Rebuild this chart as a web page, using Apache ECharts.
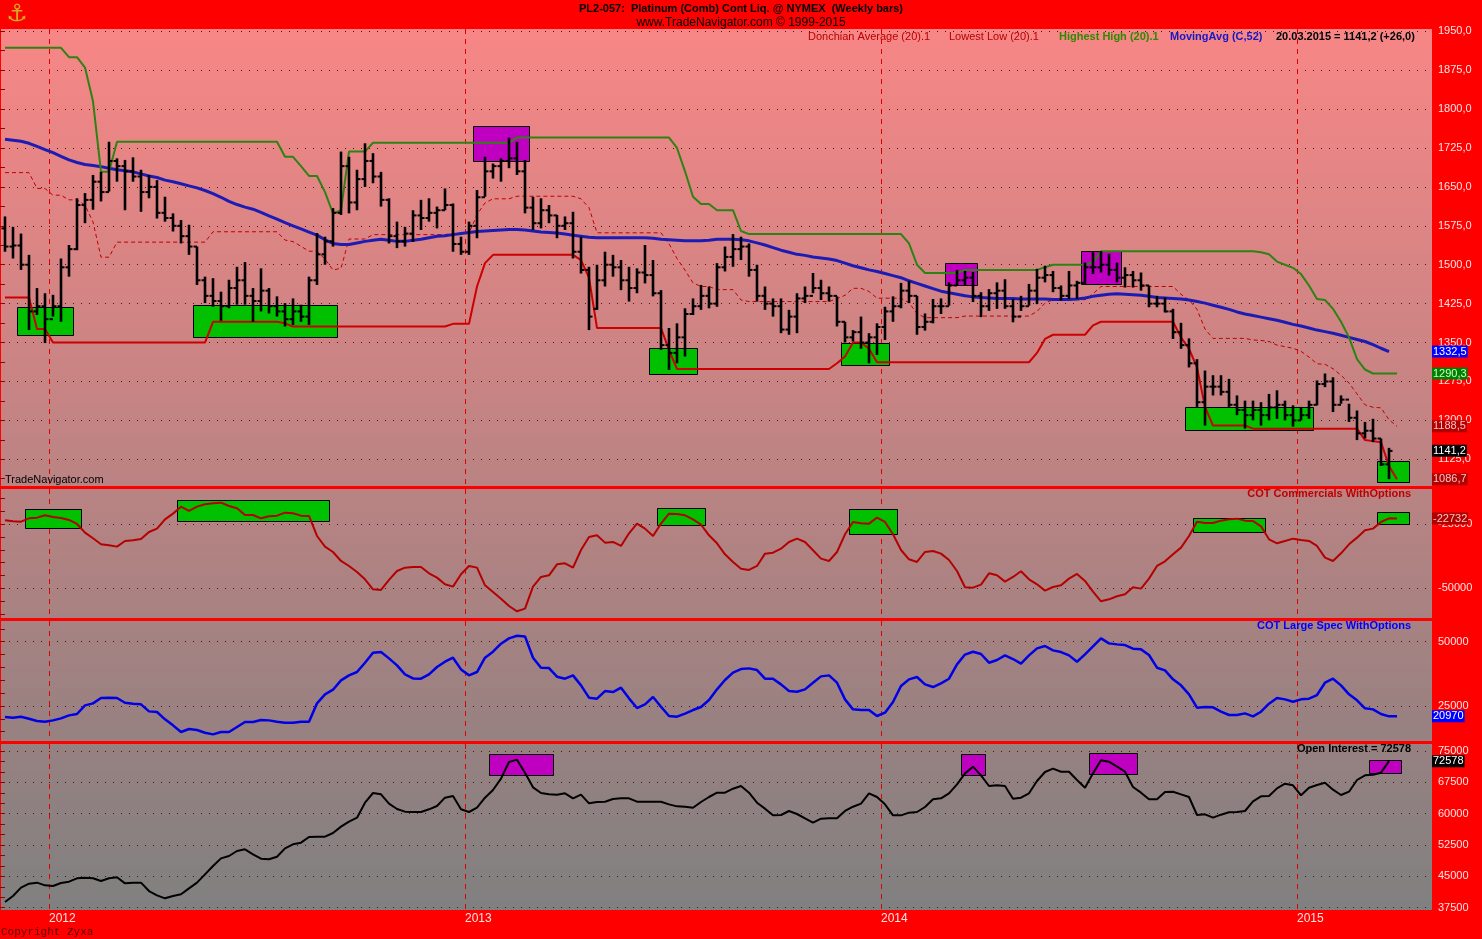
<!DOCTYPE html>
<html><head><meta charset="utf-8">
<script src="https://cdn.jsdelivr.net/npm/echarts@6.0.0/dist/echarts.min.js"></script>
<style>html,body{margin:0;padding:0;background:#ff0000;overflow:hidden}#c{width:1482px;height:939px}</style>
</head><body><div id="c"></div><script>
// ---------------- DATA (weekly bars, first bar = week of 25.11.2011) ----------------
const lastDate = '20.03.2015';
const yearBreaks = [5.5, 57.5, 109.5, 161.5];
const yearLabels = ['2012', '2013', '2014', '2015'];

const priceLabels = [1125,1200,1275,1350,1425,1500,1575,1650,1725,1800,1875,1950];
const priceTicks = [1087.5,1125,1162.5,1200,1237.5,1275,1312.5,1350,1387.5,1425,1462.5,1500,1537.5,1575,1612.5,1650,1687.5,1725,1762.5,1800,1837.5,1875,1912.5,1950];
const commLabels = [-50000,-25000];
const commTicks = [-60000,-55000,-50000,-45000,-40000,-35000,-30000,-25000,-20000,-15000];
const specLabels = [25000,50000];
const specTicks = [15000,20000,25000,30000,35000,40000,45000,50000,55000];
const oiLabels = [37500,45000,52500,60000,67500,75000];
const oiTicks = [37500,40000,42500,45000,47500,50000,52500,55000,57500,60000,62500,65000,67500,70000,72500,75000];

const open = [
1570,1535,1537,1500,1410,1420,1395,1420,1495,1530,
1615,1625,1660,1640,1700,1690,1680,1670,1640,1650,
1600,1590,1575,1555,1535,1470,1440,1430,1420,1455,
1470,1440,1430,1450,1420,1410,1395,1410,1400,1470,
1520,1545,1600,1690,1620,1665,1700,1670,1625,1555,
1545,1560,1595,1590,1600,1605,1615,1540,1525,1575,
1630,1680,1690,1700,1705,1680,1610,1580,1605,1595,
1575,1580,1525,1490,1415,1470,1500,1495,1470,1455,
1485,1480,1445,1345,1330,1360,1405,1420,1440,1425,
1495,1515,1530,1535,1490,1440,1425,1420,1375,1400,
1435,1440,1455,1445,1440,1390,1360,1370,1350,1360,
1380,1410,1420,1450,1440,1380,1390,1420,1420,1460,
1470,1475,1440,1420,1445,1450,1420,1400,1420,1450,
1475,1480,1455,1440,1460,1465,1495,1495,1500,1490,
1475,1480,1470,1460,1425,1425,1410,1370,1345,1310,
1235,1265,1265,1255,1230,1220,1210,1220,1210,1225,
1230,1210,1200,1210,1230,1270,1275,1230,1240,1205,
1175,1180,1165,1115.2];
const high = [
1593,1573,1560,1519,1455,1445,1442,1512,1538,1628,
1638,1673,1679,1737,1705,1702,1707,1683,1673,1663,
1631,1599,1586,1577,1535,1477,1474,1448,1471,1496,
1505,1455,1493,1455,1439,1426,1435,1423,1477,1561,
1554,1609,1718,1708,1683,1734,1715,1679,1628,1583,
1573,1605,1625,1628,1612,1647,1618,1554,1583,1644,
1708,1695,1705,1745,1737,1702,1631,1628,1615,1596,
1593,1602,1554,1496,1500,1525,1519,1509,1496,1493,
1538,1509,1451,1378,1387,1416,1435,1461,1458,1503,
1535,1559,1554,1541,1500,1458,1435,1435,1413,1445,
1458,1484,1471,1458,1439,1390,1374,1400,1368,1387,
1419,1439,1465,1469,1440,1406,1434,1435,1466,1490,
1488,1486,1447,1453,1466,1472,1434,1440,1463,1492,
1498,1488,1460,1488,1469,1504,1524,1526,1521,1504,
1495,1488,1485,1460,1440,1437,1415,1388,1358,1318,
1296,1287,1287,1280,1248,1238,1238,1235,1251,1258,
1238,1229,1226,1238,1277,1290.3,1283,1248,1232,1219,
1197,1203,1165,1147];
const low = [
1525,1512,1490,1374,1403,1349,1400,1390,1477,1528,
1580,1606,1622,1641,1660,1605,1660,1602,1628,1589,
1583,1564,1541,1519,1461,1426,1419,1392,1416,1423,
1423,1390,1410,1406,1400,1381,1384,1390,1384,1461,
1500,1535,1596,1599,1605,1650,1657,1612,1541,1532,
1535,1544,1567,1583,1570,1605,1525,1519,1519,1551,
1631,1666,1660,1686,1673,1599,1567,1570,1580,1551,
1567,1512,1483,1374,1413,1458,1477,1451,1429,1445,
1464,1439,1336,1297,1310,1323,1403,1413,1416,1419,
1487,1496,1509,1477,1429,1413,1400,1368,1365,1368,
1426,1445,1432,1429,1381,1350,1352,1338,1310,1326,
1355,1390,1416,1426,1365,1373,1387,1405,1421,1460,
1460,1428,1399,1411,1415,1415,1389,1411,1421,1424,
1466,1447,1431,1434,1434,1463,1482,1485,1479,1466,
1456,1456,1450,1418,1418,1408,1357,1338,1302,1226,
1190,1248,1248,1226,1210,1184,1200,1190,1200,1203,
1200,1188,1200,1203,1229,1264,1216,1232,1197,1162,
1165,1158,1112,1086.7];
const close = [
1535,1537,1500,1410,1420,1395,1420,1495,1530,1615,
1625,1660,1640,1700,1690,1680,1670,1640,1650,1600,
1590,1575,1555,1535,1470,1440,1430,1420,1455,1470,
1440,1430,1450,1420,1410,1395,1410,1400,1470,1520,
1545,1600,1690,1620,1665,1700,1670,1625,1555,1545,
1560,1595,1590,1600,1605,1615,1540,1525,1575,1630,
1680,1690,1700,1705,1680,1610,1580,1605,1595,1575,
1580,1525,1490,1400,1470,1500,1495,1470,1455,1485,
1480,1445,1345,1330,1360,1405,1420,1440,1425,1495,
1515,1530,1535,1490,1440,1425,1420,1375,1400,1435,
1440,1455,1445,1440,1390,1360,1370,1350,1360,1380,
1410,1420,1450,1440,1380,1390,1420,1420,1460,1470,
1475,1440,1420,1445,1450,1420,1400,1420,1450,1475,
1480,1455,1440,1460,1465,1495,1495,1500,1490,1475,
1480,1470,1460,1425,1425,1410,1370,1345,1310,1235,
1265,1265,1255,1230,1220,1210,1220,1210,1225,1230,
1210,1200,1210,1230,1270,1275,1230,1240,1205,1175,
1180,1165,1115.2,1141.2];
const ma52 = [
1742,1740,1738,1734,1728,1722,1716,1709,1702,1697,
1693,1691,1689,1686,1683,1681,1679,1675,1671,1668,
1663,1660,1656,1652,1648,1643,1637,1630,1622,1616,
1611,1607,1601,1594,1588,1581,1575,1569,1563,1557,
1548,1541,1539,1539,1542,1545,1547,1549,1547,1545,
1545,1547,1549,1552,1555,1556,1558,1560,1562,1564,
1565,1566,1567,1568,1568,1567,1565,1563,1562,1561,
1559,1557,1555,1553,1552,1552,1552,1552,1552,1552,
1552,1551,1549,1548,1547,1546,1546,1546,1547,1549,
1549,1549,1548,1546,1542,1538,1533,1528,1524,1520,
1518,1515,1513,1511,1508,1503,1498,1494,1490,1487,
1483,1479,1475,1469,1464,1459,1454,1449,1446,1443,
1440,1438,1437,1436,1435,1435,1435,1434,1434,1434,
1434,1433,1433,1433,1434,1436,1439,1441,1443,1444,
1443,1442,1441,1439,1437,1436,1435,1434,1432,1429,
1426,1422,1418,1414,1409,1405,1402,1399,1396,1393,
1389,1385,1382,1378,1374,1371,1368,1364,1360,1356,
1352,1346,1339,1332.5];
// Highest High (20).1, Lowest Low (20).1, Donchian Average (20).1 — one bar ahead
const hh = [
1918,1918,1918,1918,1918,1918,1918,1918,1900,1900,
1880,1815,1679,1679,1737,1737,1737,1737,1737,1737,
1737,1737,1737,1737,1737,1737,1737,1737,1737,1737,
1737,1737,1737,1737,1737,1708,1708,1690,1671,1671,
1640,1599,1605,1718,1718,1718,1735,1735,1735,1735,
1735,1735,1735,1735,1735,1735,1735,1735,1735,1735,
1735,1735,1735,1735,1745,1745,1745,1745,1745,1745,
1745,1745,1745,1745,1745,1745,1745,1745,1745,1745,
1745,1745,1745,1745,1725,1680,1631,1617,1617,1605,
1605,1605,1565,1559,1559,1559,1559,1559,1559,1559,
1559,1559,1559,1559,1559,1559,1559,1559,1559,1559,
1559,1559,1559,1541,1500,1484,1484,1484,1484,1484,
1490,1490,1490,1490,1490,1490,1490,1490,1490,1490,
1495,1500,1500,1500,1500,1500,1505,1526,1526,1526,
1526,1526,1526,1526,1526,1526,1526,1526,1526,1526,
1526,1526,1526,1526,1526,1526,1526,1524,1520,1506,
1500,1494,1482,1460,1434,1432,1415,1390,1360,1318,
1298,1290.3,1290.3,1290.3,1290.3];
const ll = [
1437,1437,1437,1437,1376,1376,1350,1350,1350,1350,
1350,1350,1350,1350,1350,1350,1350,1350,1350,1350,
1350,1350,1350,1350,1350,1350,1390,1390,1390,1390,
1390,1390,1390,1390,1390,1387,1381,1381,1381,1381,
1381,1381,1381,1381,1381,1381,1381,1381,1381,1381,
1381,1381,1381,1381,1381,1381,1386,1386,1386,1458,
1503,1519,1519,1519,1519,1519,1519,1519,1519,1519,
1519,1519,1509,1475,1378,1378,1378,1378,1378,1378,
1378,1378,1378,1336,1299,1299,1299,1299,1299,1299,
1299,1299,1299,1299,1299,1299,1299,1299,1299,1299,
1299,1299,1299,1299,1310,1323,1350,1350,1338,1312,
1312,1312,1312,1312,1312,1312,1312,1312,1312,1312,
1312,1312,1312,1312,1312,1312,1312,1312,1312,1330,
1357,1365,1365,1365,1365,1365,1383,1390,1390,1390,
1390,1390,1390,1390,1390,1390,1390,1360,1338,1302,
1226,1190,1190,1190,1190,1190,1184,1184,1184,1184,
1184,1184,1184,1184,1184,1184,1184,1184,1184,1184,
1162,1160,1158,1112,1086.7];
const dca = [
1677.5,1677.5,1677.5,1677.5,1647,1647,1634,1634,1625,1625,
1615,1582.5,1514.5,1514.5,1543.5,1543.5,1543.5,1543.5,1543.5,1543.5,
1543.5,1543.5,1543.5,1543.5,1543.5,1543.5,1563.5,1563.5,1563.5,1563.5,
1563.5,1563.5,1563.5,1563.5,1563.5,1547.5,1544.5,1535.5,1526,1526,
1510.5,1490,1493,1549.5,1549.5,1549.5,1558,1558,1558,1558,
1558,1558,1558,1558,1558,1558,1560.5,1560.5,1560.5,1596.5,
1619,1627,1627,1627,1632,1632,1632,1632,1632,1632,
1632,1632,1627,1610,1561.5,1561.5,1561.5,1561.5,1561.5,1561.5,
1561.5,1561.5,1561.5,1540.5,1512,1489.5,1465,1458,1458,1452,
1452,1452,1432,1429,1429,1429,1429,1429,1429,1429,
1429,1429,1429,1429,1434.5,1441,1454.5,1454.5,1448.5,1435.5,
1435.5,1435.5,1435.5,1426.5,1406,1398,1398,1398,1398,1398,
1401,1401,1401,1401,1401,1401,1401,1401,1401,1410,
1426,1432.5,1432.5,1432.5,1432.5,1432.5,1444,1458,1458,1458,
1458,1458,1458,1458,1458,1458,1458,1443,1432,1414,
1376,1358,1358,1358,1358,1358,1355,1354,1352,1345,
1342,1339,1333,1322,1309,1308,1299.5,1287,1272,1251,
1230,1225.2,1224.2,1201.2,1188.5];
const cotComm = [
-23440,-23830,-23960,-22660,-22400,-21490,-22140,-22530,-23310,-24870,
-28260,-30470,-32810,-33200,-33720,-31510,-31250,-30730,-28000,-26690,
-23050,-20830,-18100,-19790,-18100,-17190,-16800,-16540,-17840,-18750,
-21350,-21350,-22660,-21880,-21620,-20440,-20700,-21620,-21750,-29560,
-33720,-35810,-39320,-41280,-43620,-46480,-50390,-50650,-46740,-43230,
-41930,-41670,-41670,-44140,-45830,-48440,-49350,-44530,-41280,-41930,
-48830,-51430,-54040,-56900,-58980,-57940,-49350,-45570,-44920,-40620,
-40230,-41930,-35030,-29950,-29300,-32160,-31900,-33460,-28520,-24740,
-26690,-29560,-24740,-20830,-20960,-21490,-23050,-25130,-29300,-32420,
-36720,-39710,-42320,-42840,-41280,-36460,-36070,-34510,-31900,-30600,
-31900,-35160,-38410,-39320,-35810,-28910,-24090,-24610,-24740,-22400,
-24090,-28910,-35030,-38670,-39710,-35810,-35420,-36460,-38930,-43230,
-49600,-49740,-48570,-44140,-44920,-47390,-45570,-43360,-46480,-48440,
-50910,-49480,-48830,-46220,-44400,-47130,-51300,-55080,-54300,-53120,
-52340,-49610,-50130,-46220,-41280,-39450,-36720,-34110,-29560,-23960,
-24480,-24480,-23570,-23050,-22790,-23570,-23700,-25780,-30860,-32420,
-31510,-30600,-31120,-31510,-33460,-38020,-39320,-36330,-32810,-30210,
-27340,-26690,-24090,-22660,-22732];
const cotSpec = [
20710,20450,20840,20060,19160,18900,19410,20190,21360,21880,
25250,26020,28100,28230,28100,26280,25890,25640,22910,22650,
19800,17470,14880,16050,15660,14620,13970,14880,14880,16820,
18770,18770,19540,19410,18900,18510,18510,18900,18900,26020,
29520,31340,34970,36910,38210,41840,45720,45980,43520,40800,
37300,35740,35610,37300,40150,42220,43780,39240,36910,38210,
43780,46110,49220,51300,52330,52070,43780,39890,39760,36390,
35610,36910,33020,28230,27840,30820,30430,32120,27970,24210,
25640,28490,24730,21100,20840,22010,23430,24600,27320,31470,
35100,37950,39370,39630,38980,35610,35610,33410,30820,30560,
31470,34060,36520,36910,34060,27580,23690,23430,23430,21100,
22400,26540,32760,35360,36260,33410,32370,33800,35610,41190,
45000,46110,45210,41840,42870,44690,43260,41450,44690,47410,
48320,46630,45980,44690,42220,45080,48190,51300,49350,48960,
48700,47280,47020,44820,39890,38850,35360,33020,29520,24340,
24600,24470,22780,21490,21490,22140,20970,22780,25890,28100,
27580,26670,27580,27840,29260,34060,35610,33020,29520,27190,
24080,23690,21880,20970,20970];
const oi = [
38850,40290,42280,43240,43480,42840,42680,43400,43720,44520,
44680,44520,43880,44520,44760,43320,43480,43480,41480,40450,
39730,40290,40690,42120,43480,45470,47470,49300,49860,51060,
51460,50260,49230,49070,49700,51700,52660,53060,54410,54490,
54490,55370,56890,58080,59040,62630,64950,64630,62390,61120,
60480,60400,60400,61040,61830,63830,64230,61040,60400,61430,
63830,65660,68380,72370,72930,69810,66300,64950,64630,64550,
64870,63670,64550,62470,62790,62870,63510,63670,63670,62870,
62870,62870,62870,62230,61750,61670,61430,62790,63990,65030,
65030,65980,66620,65030,62630,61200,59600,59680,60640,59920,
58880,57840,58800,58880,58880,60640,61670,62390,64870,63990,
62230,59600,59600,60240,60400,61590,63430,63670,64870,67020,
69650,71250,69180,66620,66780,66620,63590,63830,64870,67820,
69970,70770,70050,70050,68060,66220,69650,72770,72450,71250,
70050,66380,65030,63430,63430,65190,65260,64630,63990,59680,
59840,59040,59760,60320,60400,60640,62950,64150,64230,66060,
67180,66780,64390,66220,66860,67420,65740,64470,65260,68060,
69180,69330,69810,72578];
// highlight boxes: [fromBar, toBar, top value, bottom value]
const mainGreenBoxes = [[1.5,8.5,1418,1364],[23.5,41.5,1422,1360],[80.5,86.5,1339,1289],[104.5,110.5,1350,1308],[147.5,163.5,1226,1181],[171.5,175.5,1122,1081]];
const mainMagentaBoxes = [[58.5,65.5,1767,1700],[117.5,121.5,1503,1460],[134.5,139.5,1527,1464]];
const commGreenBoxes = [[2.5,9.5,-19140,-26560],[21.5,40.5,-15630,-23830],[81.5,87.5,-18750,-25390],[105.5,111.5,-19140,-28910],[148.5,157.5,-22400,-27860],[171.5,175.5,-20180,-24740]];
const oiMagentaBoxes = [[60.5,68.5,74200,69180],[119.5,122.5,74200,69180],[135.5,141.5,74440,69410],[170.5,174.5,72770,69650]];

// ---------------- LAYOUT ----------------
const FONT = '"Liberation Sans", Arial, sans-serif';
const panels = [
  {top:29, height:457, min:1073.5, max:1954.3, labels:priceLabels, ticks:priceTicks, fmt:v=>v.toFixed(1).replace('.', ',')},
  {top:489, height:129, min:-61600, max:-11210, labels:commLabels, ticks:commTicks, fmt:v=>String(v)},
  {top:621, height:120, min:11390, max:58050, labels:specLabels, ticks:specTicks, fmt:v=>String(v)},
  {top:744, height:166, min:36935, max:76680, labels:oiLabels, ticks:oiTicks, fmt:v=>String(v)}
];
function bgAt(y){const t=(y-29)/(910-29);const r=Math.round(248+(128-248)*t),g=Math.round(134+(128-134)*t);return 'rgb('+r+','+g+','+g+')';}

const chart = echarts.init(document.getElementById('c'), null, {renderer:'canvas'});
const grids=[], xAxes=[], yAxes=[];
panels.forEach((p,k)=>{
  grids.push({left:1, top:p.top, width:1431, height:p.height, show:true, borderWidth:0,
    backgroundColor:new echarts.graphic.LinearGradient(0,0,0,1,[{offset:0,color:bgAt(p.top)},{offset:1,color:bgAt(p.top+p.height)}])});
  xAxes.push({gridIndex:k, type:'value', min:-0.5, max:178.375,
    axisLine:{show:false}, axisTick:{show:false, customValues:yearBreaks},
    axisLabel:{show:k===3, customValues:yearBreaks, formatter:v=>yearLabels[yearBreaks.indexOf(v)], align:'left', color:'#ffe4e4', fontSize:12, fontFamily:FONT, margin:3},
    splitLine:{show:true, lineStyle:{color:'#e00000', type:[5,5], width:1}}});
  yAxes.push({gridIndex:k, type:'value', position:'right', min:p.min, max:p.max,
    axisLine:{show:false},
    axisTick:{show:true, inside:true, length:9, lineStyle:{color:'#9a0000', width:1}, customValues:p.ticks},
    axisLabel:{show:true, customValues:p.labels, formatter:p.fmt, color:'#ffe4e4', fontSize:11, fontFamily:FONT, margin:6},
    splitLine:{show:false}});
  yAxes.push({gridIndex:k, type:'value', position:'right', min:p.min, max:p.max,
    axisLine:{show:false}, axisTick:{show:false, customValues:p.labels}, axisLabel:{show:false},
    splitLine:{show:true, lineStyle:{color:'#4a1414', type:[1,7], width:1}}});
});

function boxRenderer(fill){
  return function(params, api){
    const a = api.coord([api.value(0), api.value(2)]);
    const b = api.coord([api.value(1), api.value(3)]);
    return {type:'rect', shape:{x:Math.round(a[0])+0.5, y:Math.round(a[1])+0.5, width:Math.round(b[0]-a[0]), height:Math.round(b[1]-a[1])},
      style:{fill:fill, stroke:'#000', lineWidth:1}};
  };
}
function barRenderer(params, api){
  const i = api.value(0);
  const o = api.coord([i, api.value(1)]), h = api.coord([i, api.value(2)]), l = api.coord([i, api.value(3)]), c = api.coord([i, api.value(4)]);
  const x = Math.round(h[0]);
  return {type:'group', children:[
    {type:'line', shape:{x1:x, y1:h[1], x2:x, y2:l[1]}, style:{stroke:'#000', lineWidth:2.6}},
    {type:'line', shape:{x1:x-3.5, y1:o[1], x2:x, y2:o[1]}, style:{stroke:'#000', lineWidth:2}},
    {type:'line', shape:{x1:x, y1:c[1], x2:x+3.5, y2:c[1]}, style:{stroke:'#000', lineWidth:2}}
  ]};
}
const pairs = arr => arr.map((v,i)=>[i,v]);
function lineSeries(data, xi, yi, color, width, z, dashed){
  return {type:'line', xAxisIndex:xi, yAxisIndex:yi, data:pairs(data), symbol:'none', clip:true, z:z,
    lineStyle:{color:color, width:width, type: dashed ? [4,3] : 'solid'}, silent:true};
}
const boxSeries = (data, xi, yi, fill) => ({type:'custom', xAxisIndex:xi, yAxisIndex:yi, data:data, renderItem:boxRenderer(fill), encode:{x:[0,1], y:[2,3]}, z:1, silent:true, clip:true});

const bars = close.map((c,i)=>[i, open[i], high[i], low[i], close[i]]);

chart.setOption({
  animation:false,
  backgroundColor:'#ff0000',
  grid:grids, xAxis:xAxes, yAxis:yAxes,
  series:[
    boxSeries(mainGreenBoxes,0,0,'#00c000'),
    boxSeries(mainMagentaBoxes,0,0,'#c000c0'),
    lineSeries(dca,0,0,'#c00000',1,3,true),
    lineSeries(ma52,0,0,'#1c1cb4',3,4),
    lineSeries(hh,0,0,'#2e8214',2,4),
    lineSeries(ll,0,0,'#cc0000',2,4),
    {type:'custom', xAxisIndex:0, yAxisIndex:0, data:bars, renderItem:barRenderer, encode:{x:0, y:[1,2,3,4]}, z:6, silent:true, clip:true},
    boxSeries(commGreenBoxes,1,2,'#00c000'),
    lineSeries(cotComm,1,2,'#b40000',2,4),
    lineSeries(cotSpec,2,4,'#0000e6',2.5,4),
    boxSeries(oiMagentaBoxes,3,6,'#c000c0'),
    lineSeries(oi,3,6,'#000000',2,4)
  ]
});

// ---------------- TEXT + VALUE TAGS ----------------
const f1 = v => v.toFixed(1).replace('.', ',');
const L = a => a[a.length-1];
const chg = L(close) - close[close.length-2];
const texts = [
  {x:17, y:15, text:'\u2693', font:'bold 24px "DejaVu Sans"', fill:'#d8a820', align:'center'},
  {x:741, y:9, text:'PL2-057:  Platinum (Comb) Cont Liq. @ NYMEX  (Weekly bars)', font:'bold 11px "Liberation Sans Narrow", "Liberation Sans", Arial', fill:'#000', align:'center'},
  {x:741, y:23, text:'www.TradeNavigator.com \u00a9 1999-2015', font:'12px '+FONT, fill:'#000', align:'center'},
  {x:808, y:37, text:'Donchian Average (20).1', font:'11px '+FONT, fill:'#b80000', align:'left'},
  {x:949, y:37, text:'Lowest Low (20).1', font:'11px '+FONT, fill:'#b80000', align:'left'},
  {x:1059, y:37, text:'Highest High (20).1', font:'bold 11px '+FONT, fill:'#2e8a00', align:'left'},
  {x:1170, y:37, text:'MovingAvg (C,52)', font:'bold 11px '+FONT, fill:'#1818c0', align:'left'},
  {x:1276, y:37, text:lastDate+' = '+f1(L(close))+' (+'+f1(chg)+')', font:'bold 11px '+FONT, fill:'#000', align:'left'},
  {x:5, y:480, text:'TradeNavigator.com', font:'11px '+FONT, fill:'#000', align:'left'},
  {x:1411, y:494, text:'COT Commercials WithOptions', font:'bold 11px '+FONT, fill:'#c00000', align:'right'},
  {x:1411, y:626, text:'COT Large Spec WithOptions', font:'bold 11px '+FONT, fill:'#0000ff', align:'right'},
  {x:1411, y:749, text:'Open Interest = '+L(oi), font:'bold 11px '+FONT, fill:'#000', align:'right'},
  {x:1, y:932, text:'Copyright Zyxa', font:'11px "Liberation Mono", "Courier New", monospace', fill:'#5a0000', align:'left'}
];
const tags = [
  {ax:0, v:L(ma52), s:f1(L(ma52)), bg:'#0000ff', fg:'#ffffff'},
  {ax:0, v:L(hh), s:f1(L(hh)), bg:'#008000', fg:'#c8ffc8'},
  {ax:0, v:L(dca), s:f1(L(dca)), bg:'#b00000', fg:'#ffc0c0'},
  {ax:0, v:L(close), s:f1(L(close)), bg:'#000000', fg:'#ffffff'},
  {ax:0, v:L(ll), s:f1(L(ll)), bg:'#b00000', fg:'#ffc0c0'},
  {ax:2, v:L(cotComm), s:String(L(cotComm)), bg:'#b00000', fg:'#ffc0c0'},
  {ax:4, v:L(cotSpec), s:String(L(cotSpec)), bg:'#0000ff', fg:'#ffffff'},
  {ax:6, v:L(oi), s:String(L(oi)), bg:'#000000', fg:'#ffffff'}
];
const els = texts.map(t=>({type:'text', x:t.x, y:t.y, z:50, silent:true,
  style:{text:t.text, font:t.font, fill:t.fill, textAlign:t.align, textVerticalAlign:'middle'}}));
tags.forEach(t=>{
  const py = chart.convertToPixel({yAxisIndex:t.ax}, t.v);
  els.push({type:'text', x:1432, y:py, z:60, silent:true,
    style:{text:t.s, font:'11px '+FONT, fill:t.fg, backgroundColor:t.bg, padding:[1,1,0,1], textAlign:'left', textVerticalAlign:'middle'}});
});
chart.setOption({graphic:{elements:els}});
</script></body></html>
